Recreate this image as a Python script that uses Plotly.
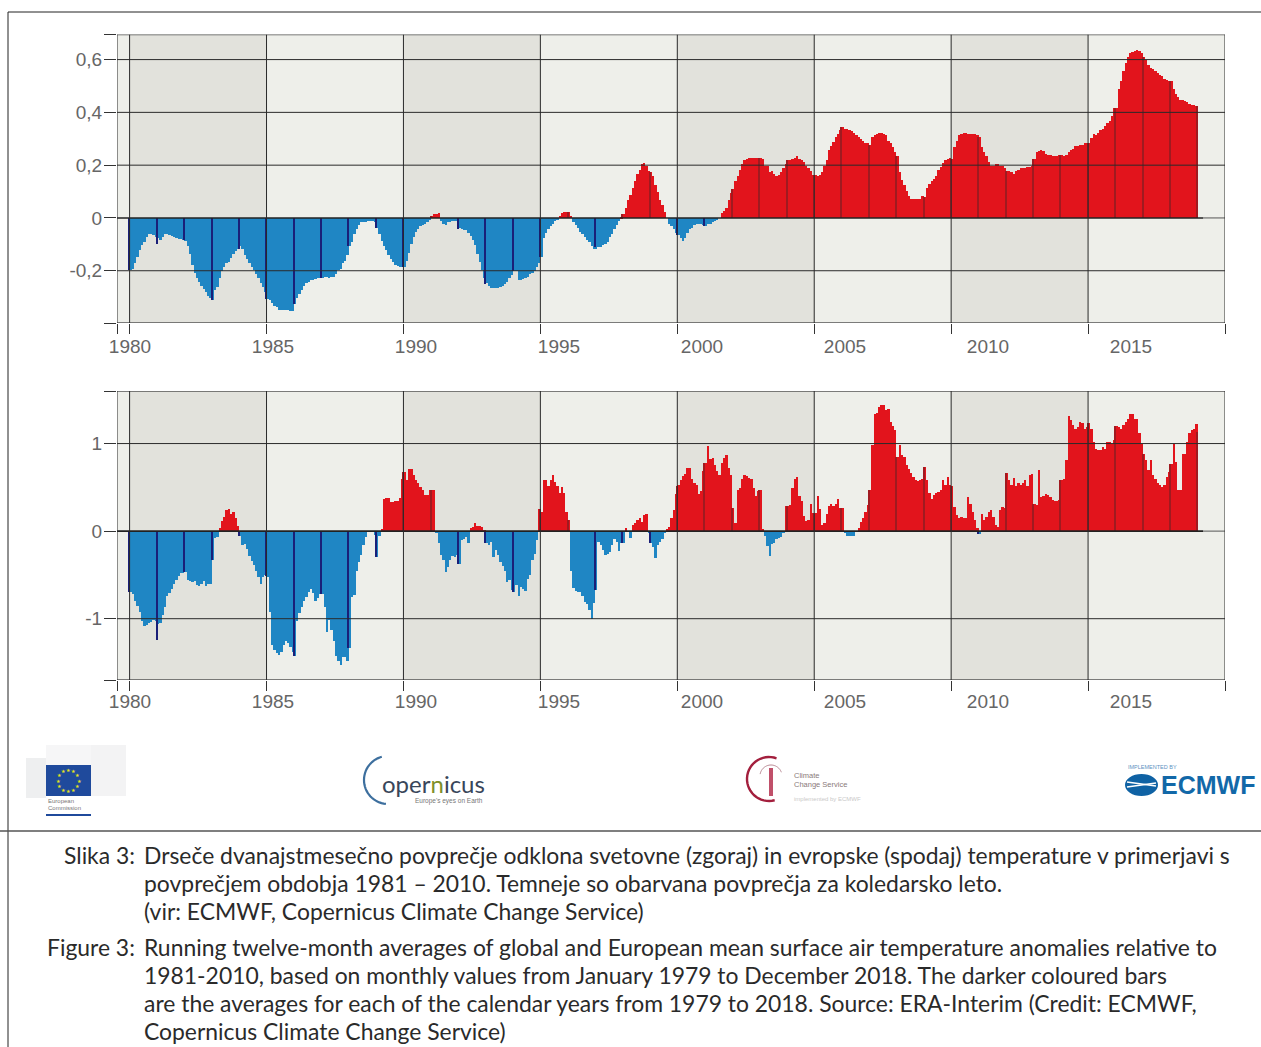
import math
import plotly.graph_objects as go

# ---------- data ----------
month_start_year = 1980
global_monthly = [
 -.195,-.19,-.17,-.145,-.12,-.10,-.088,-.07,-.06,-.06,-.063,-.069,
 -.075,-.08,-.07,-.06,-.06,-.063,-.068,-.072,-.075,-.078,-.078,-.08,
 -.085,-.105,-.135,-.175,-.205,-.225,-.24,-.255,-.268,-.28,-.295,-.30,
 -.31,-.27,-.26,-.225,-.20,-.185,-.17,-.165,-.15,-.135,-.125,-.115,
 -.105,-.115,-.14,-.155,-.17,-.185,-.195,-.21,-.225,-.245,-.26,-.28,
 -.305,-.31,-.32,-.33,-.335,-.345,-.345,-.345,-.345,-.345,-.35,-.35,
 -.325,-.30,-.285,-.27,-.255,-.245,-.24,-.235,-.235,-.23,-.225,-.225,
 -.225,-.22,-.22,-.225,-.22,-.22,-.21,-.195,-.19,-.17,-.16,-.14,
 -.105,-.09,-.06,-.04,-.025,-.015,-.012,-.012,-.01,-.01,-.01,-.012,
 -.035,-.06,-.085,-.105,-.12,-.14,-.155,-.165,-.175,-.18,-.185,-.185,
 -.185,-.16,-.13,-.095,-.07,-.05,-.04,-.03,-.025,-.02,-.015,-.005,
 .01,.015,.018,.02,-.01,-.02,-.025,-.015,-.012,-.01,-.01,-.008,
 -.035,-.04,-.042,-.045,-.055,-.065,-.08,-.10,-.135,-.165,-.195,-.225,
 -.245,-.255,-.262,-.262,-.265,-.265,-.26,-.255,-.25,-.24,-.225,-.215,
 -.20,-.20,-.235,-.235,-.23,-.225,-.22,-.21,-.205,-.20,-.185,-.17,
 -.145,-.075,-.055,-.04,-.03,-.02,-.01,-.005,.01,.02,.025,.025,
 .023,.01,-.015,-.025,-.035,-.05,-.06,-.07,-.08,-.09,-.105,-.115,
 -.115,-.108,-.108,-.10,-.095,-.09,-.07,-.06,-.04,-.025,-.01,.005,
 .015,.04,.07,.09,.115,.14,.17,.185,.205,.21,.20,.18,
 .175,.16,.125,.10,.07,.05,.025,.0,-.02,-.03,-.04,-.055,
 -.063,-.075,-.085,-.075,-.055,-.04,-.035,-.025,-.022,-.02,-.02,-.025,
 -.03,-.02,-.02,-.015,-.01,-.005,.0,.02,.03,.04,.07,.095,
 .11,.14,.16,.185,.205,.22,.225,.228,.228,.23,.23,.23,
 .23,.225,.20,.20,.175,.18,.17,.16,.165,.175,.19,.205,
 .22,.22,.225,.23,.235,.225,.22,.215,.20,.19,.18,.165,
 .165,.16,.165,.175,.20,.22,.26,.275,.29,.31,.32,.335,
 .345,.34,.34,.335,.33,.325,.315,.31,.30,.295,.285,.285,
 .28,.31,.315,.32,.325,.325,.32,.315,.295,.285,.27,.25,
 .235,.175,.145,.125,.105,.085,.075,.075,.072,.072,.075,.085,
 .08,.115,.13,.14,.15,.16,.185,.195,.21,.22,.225,.23,
 .225,.27,.295,.315,.32,.325,.325,.32,.32,.32,.32,.315,
 .31,.27,.25,.235,.215,.20,.20,.205,.205,.20,.20,.19,
 .18,.18,.175,.17,.18,.185,.19,.19,.19,.195,.195,.20,
 .225,.25,.255,.26,.255,.245,.24,.24,.235,.235,.235,.24,
 .24,.235,.24,.25,.26,.265,.275,.275,.28,.28,.285,.285,
 .285,.305,.32,.315,.325,.335,.34,.35,.36,.37,.39,.42,
 .42,.49,.52,.56,.59,.61,.625,.63,.635,.64,.635,.625,
 .61,.60,.58,.57,.565,.56,.55,.545,.54,.53,.525,.52,
 .52,.49,.47,.46,.45,.45,.445,.44,.435,.43,.43,.425,
]
europe_monthly = [
 -.70,-.72,-.80,-.86,-.92,-1.03,-1.08,-1.07,-1.05,-1.04,-1.02,-1.03,
 -1.06,-1.05,-.96,-.87,-.74,-.71,-.665,-.605,-.56,-.515,-.475,-.475,
 -.47,-.56,-.57,-.58,-.57,-.615,-.63,-.60,-.57,-.63,-.605,-.60,
 -.33,-.08,-.07,.03,.11,.16,.24,.25,.20,.22,.15,.06,
 -.055,-.16,-.15,-.20,-.28,-.34,-.39,-.46,-.52,-.60,-.52,-.50,
 -.52,-.92,-1.30,-1.36,-1.39,-1.41,-1.38,-1.30,-1.26,-1.28,-1.32,-1.38,
 -1.43,-1.03,-.93,-.87,-.80,-.75,-.70,-.66,-.71,-.80,-.76,-.72,
 -.72,-.87,-1.15,-1.02,-1.13,-1.25,-1.43,-1.48,-1.53,-1.44,-1.44,-1.48,
 -1.34,-.75,-.73,-.45,-.35,-.275,-.16,-.065,-.01,0,0,-.04,
 -.29,-.05,.02,.37,.375,.375,.335,.335,.34,.345,.38,.60,
 .68,.58,.715,.705,.64,.58,.545,.505,.47,.41,.41,.475,
 .475,.475,-.02,-.14,-.27,-.33,-.465,-.41,-.33,-.28,-.29,-.27,
 -.37,-.10,-.085,-.07,-.13,.03,.05,.095,.06,.055,.05,.01,
 -.14,-.16,-.12,-.29,-.22,-.27,-.35,-.40,-.45,-.58,-.56,-.67,
 -.70,-.62,-.74,-.64,-.66,-.68,-.55,-.50,-.33,-.26,-.10,.25,
 .22,.58,.58,.52,.58,.64,.56,.52,.43,.50,.43,.22,
 .13,-.45,-.65,-.68,-.69,-.70,-.74,-.81,-.83,-.90,-1.0,-.82,
 -.67,-.12,-.16,-.22,-.27,-.26,-.235,-.16,-.085,-.12,-.23,-.14,
 -.14,.03,.0,-.08,.07,.09,.125,.145,.105,.18,.195,-.02,
 -.14,-.18,-.31,-.16,-.12,-.085,-.025,.02,.05,.145,.24,.42,
 .525,.58,.625,.65,.72,.72,.60,.55,.53,.42,.46,.69,
 .78,.97,.82,.835,.76,.685,.645,.78,.835,.865,.72,.645,
 .265,.095,.475,.495,.59,.645,.63,.61,.59,.495,.40,.455,
 .475,.02,-.06,-.17,-.28,-.15,-.13,-.095,-.075,-.065,-.02,.285,
 .285,.30,.495,.59,.62,.40,.34,.17,.115,.13,.305,.21,
 .21,.40,.25,.075,.095,.19,.285,.315,.285,.305,.37,.265,
 .265,-.02,-.05,-.05,-.06,-.06,-.01,.04,.10,.15,.22,.30,
 .47,.98,1.34,1.35,1.42,1.44,1.44,1.38,1.39,1.25,1.20,1.15,
 .85,.98,.87,.85,.75,.71,.66,.62,.58,.57,.58,.60,
 .73,.58,.43,.37,.41,.43,.45,.47,.58,.525,.62,.525,
 .51,.28,.18,.155,.16,.145,.145,.385,.315,.22,.125,.03,
 -.03,.20,.125,.16,.22,.24,.165,.07,.05,.24,.27,.26,
 .665,.58,.525,.61,.51,.545,.525,.545,.58,.51,.64,.65,
 .315,.30,.70,.39,.40,.42,.41,.395,.35,.34,.34,.36,
 .58,.60,.81,1.31,1.27,1.21,1.17,1.19,1.25,1.23,1.17,1.19,
 1.23,1.17,1.02,.94,.925,.925,.96,.94,1.02,1.02,1.00,1.04,
 1.20,1.19,1.17,1.21,1.25,1.285,1.34,1.335,1.285,1.285,1.115,1.00,
 .885,.81,.695,.81,.64,.60,.545,.525,.50,.525,.62,.675,
 .77,1.0,.79,.47,.47,.885,.885,1.02,1.115,1.15,1.17,1.22,
]
year_positions = list(range(1980, 2020))
global_yearly = [-.195,-.095,-.08,-.31,-.115,-.305,-.325,-.225,-.105,-.035,
 -.185,.01,-.04,-.25,-.20,-.145,.023,-.11,.015,.175,
 -.063,-.03,.11,.23,.22,.165,.345,.28,.235,.08,
 .225,.31,.18,.225,.24,.285,.42,.61,.52,.425]
europe_yearly = [-.70,-1.24,-.465,-.33,-.055,-.51,-1.43,-.72,-1.34,-.29,
 .68,.475,-.37,-.14,-.70,.25,.13,-.675,-.14,-.14,
 .52,.78,.265,.475,.285,.21,.265,.47,.85,.73,
 .51,-.03,.665,.315,.58,1.23,1.20,.885,.77,1.13]
tick_years = [1980,1985,1990,1995,2000,2005,2010,2015,2020]
label_years = [1980,1985,1990,1995,2000,2005,2010,2015]
band_spans = [(1980,1985),(1990,1995),(2000,2005),(2010,2015)]
global_ticks = [-0.398,-0.2,0,0.2,0.4,0.6,0.695]
global_ticktext = ["","-0,2","0","0,2","0,4","0,6",""]
europe_ticks = [-1.7,-1,0,1,1.6]
europe_ticktext = ["","-1","0","1",""]
caption_lines = [
 ("Slika 3:", 136, 855, "right"),
 ("Drseče dvanajstmesečno povprečje odklona svetovne (zgoraj) in evropske (spodaj) temperature v primerjavi s", 143, 855, "left"),
 ("povprečjem obdobja 1981 – 2010. Temneje so obarvana povprečja za koledarsko leto.", 143, 883, "left"),
 ("(vir: ECMWF, Copernicus Climate Change Service)", 143, 911, "left"),
 ("Figure 3:", 136, 947, "right"),
 ("Running twelve-month averages of global and European mean surface air temperature anomalies relative to", 143, 947, "left"),
 ("1981-2010, based on monthly values from January 1979 to December 2018. The darker coloured bars", 143, 975, "left"),
 ("are the averages for each of the calendar years from 1979 to 2018. Source: ERA-Interim (Credit: ECMWF,", 143, 1003, "left"),
 ("Copernicus Climate Change Service)", 143, 1031, "left"),
]

# ---------- styles / layout ----------
W, H = 1261, 1047
LIGHT, DARK = "#eeefea", "#e2e2dc"
RED, BLUE = "#e2141c", "#1f86c4"
DRED, DBLUE = "#a01a20", "#1a1f78"
AXIS_FONT = dict(family="Liberation Sans", size=19, color="#666666")
CAP_FONT = "Lato"

def px(x): return x / W
def py(y): return 1 - y / H

months_x = [month_start_year + i / 12 + 1 / 24 for i in range(len(global_monthly))]
x_dom = [px(117), px(1225)]
x_rng = [1979.54, 2020]
lab_rng = [1980 + (117 - 130) / 28.6, 1980 + (1225 - 130) / 28.6]

fig = go.Figure()

def panel(monthly, yearly, xa, ya, xb):
    fig.add_bar(x=months_x, y=monthly, width=1 / 12, xaxis=xa, yaxis=ya, showlegend=False,
                marker=dict(color=[RED if v >= 0 else BLUE for v in monthly], line_width=0))
    fig.add_bar(x=year_positions, y=yearly, width=0.055, xaxis=xa, yaxis=ya, showlegend=False,
                marker=dict(color=[DRED if v >= 0 else DBLUE for v in yearly], line_width=0))
    fig.add_scatter(x=label_years, y=[0] * len(label_years), xaxis=xb, yaxis=ya, mode="markers",
                    marker=dict(opacity=0), hoverinfo="skip", showlegend=False)

panel(global_monthly, global_yearly, "x", "y", "x3")
panel(europe_monthly, europe_yearly, "x2", "y2", "x4")

def x_axis(anchor):
    return dict(domain=x_dom, range=x_rng, anchor=anchor, tickvals=[x_rng[0]] + tick_years,
                showticklabels=False, ticks="outside", ticklen=10, tickwidth=1, tickcolor="#333",
                showgrid=False, zeroline=False, automargin=False)

def label_axis(anchor, over, gap):
    return dict(domain=x_dom, range=lab_rng, anchor=anchor, overlaying=over, tickvals=label_years,
                ticks="outside", ticklen=gap, tickcolor="rgba(0,0,0,0)", tickfont=AXIS_FONT,
                showgrid=False, zeroline=False, showline=False, automargin=False)

def y_axis(top, bottom, rng, vals, text, anchor):
    return dict(domain=[py(bottom), py(top)], range=rng, anchor=anchor, tickvals=vals, ticktext=text,
                ticks="outside", ticklen=12, tickwidth=1, tickcolor="#333", tickfont=AXIS_FONT,
                ticklabelstandoff=-2, showgrid=False, zeroline=False, automargin=False)

shapes, annots = [], []

def panel_shapes(xr, yr, rng, vals, end_year):
    for a, b in band_spans:
        shapes.append(dict(type="rect", xref=xr, yref=yr, x0=a, x1=b, y0=rng[0], y1=rng[1],
                           fillcolor=DARK, line_width=0, layer="below"))
    for v in vals:
        edge = v in (rng[0], rng[1])
        col = "#555" if edge else "#2a2a2a"
        if v == 0:
            shapes.append(dict(type="line", xref=xr, yref=yr, x0=end_year, x1=x_rng[1], y0=0, y1=0,
                               line=dict(color="#555", width=1)))
            shapes.append(dict(type="line", xref=xr, yref=yr, x0=x_rng[0], x1=end_year, y0=0, y1=0,
                               line=dict(color="#222", width=1.6)))
        else:
            shapes.append(dict(type="line", xref=xr, yref=yr, x0=x_rng[0], x1=x_rng[1], y0=v, y1=v,
                               line=dict(color=col, width=1.3 if edge else 1)))
    for t in [x_rng[0]] + tick_years:
        shapes.append(dict(type="line", xref=xr, yref=yr, x0=t, x1=t, y0=rng[0], y1=rng[1],
                           line=dict(color="#2a2a2a", width=1)))

g_rng = [global_ticks[0], global_ticks[-1]]
e_rng = [europe_ticks[0], europe_ticks[-1]]
panel_shapes("x", "y", g_rng, global_ticks, 2019.2)
panel_shapes("x2", "y2", e_rng, europe_ticks, 2019.2)

def pline(x0, y0, x1, y1, color="#222", width=1):
    shapes.append(dict(type="line", xref="paper", yref="paper", x0=px(x0), y0=py(y0), x1=px(x1), y1=py(y1),
                       line=dict(color=color, width=width)))

def prect(x0, y0, x1, y1, color, kind="rect"):
    shapes.append(dict(type=kind, xref="paper", yref="paper", x0=px(x0), y0=py(y0), x1=px(x1), y1=py(y1),
                       fillcolor=color, line_width=0))

def parc(cx, cy, r, a0, a1, color, width):
    pts = []
    for i in range(31):
        a = math.radians(a0 + (a1 - a0) * i / 30)
        pts.append((px(cx + r * math.cos(a)), py(cy - r * math.sin(a))))
    d = "M " + " L ".join(f"{x:.5f},{y:.5f}" for x, y in pts)
    shapes.append(dict(type="path", xref="paper", yref="paper", path=d, line=dict(color=color, width=width)))

def text(s, x, y, size, color, anchor="left", family=CAP_FONT, **kw):
    annots.append(dict(text=s, xref="paper", yref="paper", x=px(x), y=py(y), xanchor=anchor, yanchor="middle",
                       showarrow=False, font=dict(family=family, size=size, color=color),
                       align=anchor, borderpad=0, **kw))

# frame
pline(8, 12, 1261, 12, "#222", 1)
pline(8, 12, 8, 1047, "#222", 1)
pline(0, 831, 1261, 831, "#555", 1.5)

# EU logo
prect(26, 758, 46, 798, "#eeeff0")
prect(46, 745, 100, 765, "#f6f6f7")
prect(91, 745, 126, 796, "#f3f3f4")
prect(46, 765, 91, 796, "#1f4a9c")
for k in range(12):
    a = 2 * math.pi * k / 12
    text("★", 68.5 + 10.5 * math.cos(a), 780.5 + 10.5 * math.sin(a), 5, "#e6e41e", "center", "DejaVu Sans")
text("European", 47, 801, 6, "#777", family="Liberation Sans")
text("Commission", 47, 808, 6, "#777", family="Liberation Sans")
prect(46, 814, 91, 816, "#1f4a9c")

# Copernicus logo
parc(388, 780, 24, 105, 265, "#3d6f9e", 2.2)
text('oper<span style="color:#7f8f2a">n</span>icus', 381, 783, 24, "#39465a", family="Lato")
text("Europe's eyes on Earth", 414, 801, 6.5, "#777", family="Liberation Sans")

# Climate Change Service logo
parc(769, 779, 22, 70, 285, "#a31f3d", 2.4)
parc(771, 776, 11, 20, 170, "#b98a95", 1)
prect(769, 768, 773, 796, "#c0506a")
text("Climate", 793, 775, 7.5, "#8a7a7a", family="Liberation Sans")
text("Change Service", 793, 784, 7.5, "#8a7a7a", family="Liberation Sans")
text("implemented by ECMWF", 793, 799, 6, "#c9c9c9", family="Liberation Sans")

# ECMWF logo
text("IMPLEMENTED BY", 1127, 767, 5.5, "#5e93bf", family="Liberation Sans")
prect(1125, 774, 1158, 796, "#0f62a4", "circle")
pline(1127, 782, 1156, 786, "#ffffff", 1.6)
pline(1127, 787, 1156, 783, "#ffffff", 1.6)
text("<b>ECMWF</b>", 1160, 785, 25, "#1268a8", family="Liberation Sans")

# caption
for s, x, y, a in caption_lines:
    text(s, x, y, 22.9, "#2a2a2a", a)

fig.update_layout(
    width=W, height=H, margin=dict(l=0, r=0, t=0, b=0, pad=0), autosize=False,
    paper_bgcolor="white", plot_bgcolor=LIGHT, barmode="overlay", bargap=0,
    showlegend=False, shapes=shapes, annotations=annots,
    xaxis=x_axis("y"), xaxis2=x_axis("y2"),
    xaxis3=label_axis("y", "x", 6), xaxis4=label_axis("y2", "x2", 4),
    yaxis=y_axis(34.5, 323, g_rng, global_ticks, global_ticktext, "x"),
    yaxis2=y_axis(391, 680, e_rng, europe_ticks, europe_ticktext, "x2"),
)

fig.write_html("out.html", config={"displayModeBar": False},
               post_script="document.body.style.margin='0';document.body.style.overflow='hidden';")
